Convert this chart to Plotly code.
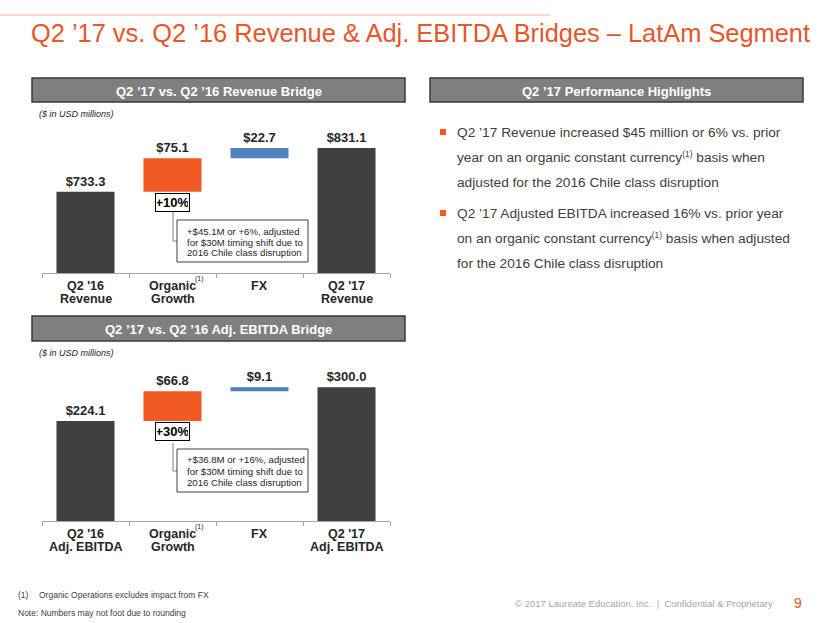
import plotly.graph_objects as go

W, H = 830, 623
FONT = "Liberation Sans, Arial, sans-serif"

# ---------------- data ----------------
rev_line1 = ["Q2 '16", "Organic", "FX", "Q2 '17"]
rev_line2 = ["Revenue", "Growth", "", "Revenue"]
rev_values = [733.3, 75.1, 22.7, 831.1]
rev_kinds = ["total", "delta", "delta", "total"]
rev_growth_label = "+10%"
rev_note = ["+$45.1M or +6%, adjusted", "for $30M timing shift due to", "2016 Chile class disruption"]

ebitda_line1 = ["Q2 '16", "Organic", "FX", "Q2 '17"]
ebitda_line2 = ["Adj. EBITDA", "Growth", "", "Adj. EBITDA"]
ebitda_values = [224.1, 66.8, 9.1, 300.0]
ebitda_kinds = ["total", "delta", "delta", "total"]
ebitda_growth_label = "+30%"
ebitda_note = ["+$36.8M or +16%, adjusted", "for $30M timing shift due to", "2016 Chile class disruption"]

bar_colors = ["#404040", "#F15A24", "#4F81BD", "#404040"]

SUP = "<span style='font-size:12px'><sup>(1)</sup></span>"
highlights = [
    ["Q2 ’17 Revenue increased $45 million or 6% vs. prior",
     "year on an organic constant currency" + SUP + " basis when",
     "adjusted for the 2016 Chile class disruption"],
    ["Q2 ’17 Adjusted EBITDA increased 16% vs. prior year",
     "on an organic constant currency" + SUP + " basis when adjusted",
     "for the 2016 Chile class disruption"],
]

REV_AXIS_MIN = 551.0
EBITDA_AXIS_MIN = 0.0
PX_PER_UNIT = 0.446


def px(x):
    return x / W


def py(y):
    return 1 - y / H


def bases_for(values, kinds):
    out, run = [], 0.0
    for v, k in zip(values, kinds):
        if k == "total":
            out.append(0.0)
            run = v
        else:
            out.append(run)
            run += v
    return out


def cats(l1, l2):
    return [(a + " " + b).strip() for a, b in zip(l1, l2)]


fig = go.Figure()

rev_x = cats(rev_line1, rev_line2)
eb_x = cats(ebitda_line1, ebitda_line2)
rev_bases = bases_for(rev_values, rev_kinds)
eb_bases = bases_for(ebitda_values, ebitda_kinds)

for xs, vals, bases, xa, ya in [(rev_x, rev_values, rev_bases, "x", "y"),
                                (eb_x, ebitda_values, eb_bases, "x2", "y2")]:
    fig.add_trace(go.Bar(
        x=xs, y=vals, base=bases, width=0.667,
        marker=dict(color=bar_colors, line=dict(width=0)),
        text=["$%.1f" % v for v in vals], textposition="outside",
        textfont=dict(family=FONT, size=13, color="#262626", weight="bold"),
        cliponaxis=False, xaxis=xa, yaxis=ya, hoverinfo="skip",
    ))

axis_common = dict(type="category", showline=True, linecolor="#A6A6A6", linewidth=1,
                   ticks="outside", ticklen=4, tickcolor="#A6A6A6", tickson="boundaries",
                   showticklabels=False, showgrid=False, zeroline=False, fixedrange=True)

fig.update_layout(
    width=W, height=H, margin=dict(l=0, r=0, t=0, b=0),
    paper_bgcolor="white", plot_bgcolor="white", showlegend=False,
    xaxis=dict(domain=[px(42), px(390)], anchor="y", range=[-0.5, 3.5], **axis_common),
    yaxis=dict(domain=[py(273), py(110)], anchor="x", visible=False,
               range=[REV_AXIS_MIN, REV_AXIS_MIN + 163 / PX_PER_UNIT]),
    xaxis2=dict(domain=[px(42), px(390)], anchor="y2", range=[-0.5, 3.5], **axis_common),
    yaxis2=dict(domain=[py(521), py(358)], anchor="x2", visible=False,
                range=[EBITDA_AXIS_MIN, EBITDA_AXIS_MIN + 163 / PX_PER_UNIT]),
)

shapes = []
ann = []


def text(x, y, s, size, color="#262626", bold=False, anchor="left", italic=False, yanchor="middle"):
    f = dict(family=FONT, size=size, color=color)
    if bold:
        f["weight"] = "bold"
    if italic:
        f["style"] = "italic"
    ann.append(dict(xref="paper", yref="paper", x=px(x), y=py(y), text=s, showarrow=False,
                    xanchor=anchor, yanchor=yanchor, font=f))


def rect(x0, y0, x1, y1, fill, line, lw=1):
    shapes.append(dict(type="rect", xref="paper", yref="paper", x0=px(x0), x1=px(x1),
                       y0=py(y1), y1=py(y0), fillcolor=fill,
                       line=dict(color=line, width=lw), layer="below" if fill != "white" else "above"))


def line(x0, y0, x1, y1, color, lw=1):
    shapes.append(dict(type="line", xref="paper", yref="paper", x0=px(x0), x1=px(x1),
                       y0=py(y0), y1=py(y1), line=dict(color=color, width=lw)))


# top rule and title
line(0, 15, 550, 15, "#F5B49A", 1)
text(29, 33, "Q2 ’17 vs. Q2 ’16 Revenue &amp; Adj. EBITDA Bridges – LatAm Segment", 25.4, color="#E8562A")

# section headers
for (x0, y0, x1, y1, s) in [(32, 78, 405, 102, "Q2 ’17 vs. Q2 ’16 Revenue Bridge"),
                            (430, 78, 803, 102, "Q2 ’17 Performance Highlights"),
                            (32, 316, 405, 341, "Q2 ’17 vs. Q2 ’16 Adj. EBITDA Bridge")]:
    rect(x0, y0, x1, y1, "#7F7F7F", "#3A3A3A", 1.5)
    text((x0 + x1) / 2, (y0 + y1) / 2 + 1, s, 13, color="white", bold=True, anchor="center")

text(37, 114, "($ in USD millions)", 9, italic=True)
text(37, 353, "($ in USD millions)", 9, italic=True)

# category labels
for xs, l1, l2, xa, ya1, ya2 in [(rev_x, rev_line1, rev_line2, "x", 286, 299),
                                 (eb_x, ebitda_line1, ebitda_line2, "x2", 534, 547)]:
    for c, a, b in zip(xs, l1, l2):
        f = dict(family=FONT, size=12.5, color="#262626", weight="bold")
        ann.append(dict(xref=xa, yref="paper", x=c, y=py(ya1), text=a, showarrow=False,
                        xanchor="center", yanchor="middle", font=f))
        if b:
            ann.append(dict(xref=xa, yref="paper", x=c, y=py(ya2), text=b, showarrow=False,
                            xanchor="center", yanchor="middle", font=f))
        if a == "Organic":
            ann.append(dict(xref=xa, yref="paper", x=c, y=py(ya1 - 7), text="(1)", showarrow=False,
                            xanchor="left", yanchor="middle", xshift=20,
                            font=dict(family=FONT, size=7, color="#262626")))

# growth % boxes anchored at organic bar bottom
for xs, bases, ya, lab in [(rev_x, rev_bases, "y", rev_growth_label),
                           (eb_x, eb_bases, "y2", ebitda_growth_label)]:
    ann.append(dict(xref=ya.replace("y", "x"), yref=ya, x=xs[1], y=bases[1], text=lab,
                    showarrow=False, xanchor="center", yanchor="top", yshift=-1,
                    bordercolor="#000000", borderwidth=1, borderpad=1, bgcolor="white",
                    width=31, font=dict(family=FONT, size=13, color="#000000", weight="bold")))

# callout notes
for (yb, yl, bx0, by0, bx1, by1, note) in [(211, 241, 177, 220, 308, 262, rev_note),
                                         (443, 471, 177, 449, 308, 492, ebitda_note)]:
    line(173, yb, 173, yl, "#7F7F7F", 1)
    line(173, yl, bx0, yl, "#7F7F7F", 1)
    rect(bx0, by0, bx1, by1, "white", "#404040", 1)
    for i, s in enumerate(note):
        text(bx0 + 8, by0 + 11 + i * 11, s, 9.6)

# highlights bullets
for bi, (block, y0) in enumerate(zip(highlights, [132, 213])):
    rect(440, y0 - 3, 446, y0 + 3, "#F15A24", "#F15A24", 0)
    for li, s in enumerate(block):
        text(455, y0 + li * 25, s, 13.7, color="#404040")

# footer
text(16, 595, "(1)", 8.5, color="#404040")
text(37, 595, "Organic Operations excludes impact from FX", 8.5, color="#404040")
text(16, 613, "Note: Numbers may not foot due to rounding", 8.5, color="#404040")
text(775, 603, "© 2017 Laureate Education, Inc.  |  Confidential &amp; Proprietary", 9.5,
     color="#A6A6A6", anchor="right")
text(798, 603, "9", 14, color="#E8562A", anchor="center")

fig.update_layout(shapes=shapes, annotations=ann)
fig.write_html("out.html")
